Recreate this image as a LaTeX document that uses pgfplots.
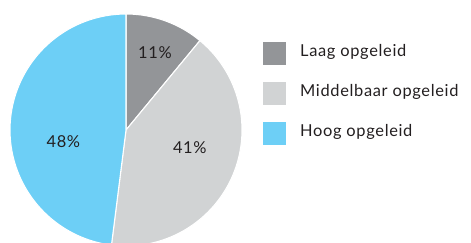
\documentclass[border=0pt]{standalone}
\usepackage{fontspec}
\setmainfont[LetterSpace=4]{Lato}
\usepackage{pgfplots}
\usepackage{pgfplotstable}
\pgfplotsset{compat=1.18}
\definecolor{cLaag}{HTML}{939598}
\definecolor{cMid}{HTML}{D1D3D4}
\definecolor{cHoog}{HTML}{6DCFF6}
\definecolor{txt}{HTML}{231F20}
\pgfplotstableread{
group pct
Laag 11
Middelbaar 41
Hoog 48
}\shares
\begin{document}
\begin{tikzpicture}
\pgfplotstablegetelem{0}{pct}\of\shares \edef\pA{\pgfplotsretval}
\pgfplotstablegetelem{1}{pct}\of\shares \edef\pB{\pgfplotsretval}
\pgfplotstablegetelem{2}{pct}\of\shares \edef\pC{\pgfplotsretval}
\pgfmathsetmacro\aA{90}
\pgfmathsetmacro\aB{90-3.6*\pA}
\pgfmathsetmacro\aC{\aB-3.6*\pB}
\pgfmathsetmacro\aD{\aC-3.6*\pC}
\path[use as bounding box] (0,0) rectangle (471bp,243bp);
\clip (0,0) rectangle (471bp,243bp);
\begin{axis}[
  at={(126bp,113bp)}, anchor=origin,
  x=116bp, y=116bp,
  xmin=-1, xmax=1, ymin=-1, ymax=1,
  hide axis, clip=false,
  legend style={at={(1.0905,0.879)}, anchor=north west, draw=none, fill=none,
    inner sep=0pt, row sep=17bp, column sep=14bp,
    nodes={inner sep=0pt, text=txt, font=\fontsize{16.5}{19}\selectfont},
    cells={anchor=base west}},
  legend image code/.code={\fill[#1, draw=none] (0bp,-8.3bp) rectangle (23bp,14.7bp);},
]
\addplot[fill=cLaag, draw=white, line width=1.1pt, domain=\aB:\aA, samples=60, variable=\t]
  ({cos(\t)},{sin(\t)}) -- (axis cs:0,0) -- cycle;
\addlegendentry{Laag opgeleid}
\addplot[fill=cMid, draw=white, line width=1.1pt, domain=\aC:\aB, samples=120, variable=\t]
  ({cos(\t)},{sin(\t)}) -- (axis cs:0,0) -- cycle;
\addlegendentry{Middelbaar opgeleid}
\addplot[fill=cHoog, draw=white, line width=1.1pt, domain=\aD:\aC, samples=140, variable=\t]
  ({cos(\t)},{sin(\t)}) -- (axis cs:0,0) -- cycle;
\addlegendentry{Hoog opgeleid}
\node[text=txt, font=\fontsize{16.5}{19}\selectfont] at (axis cs:0.25,0.67) {\pA\%};
\node[text=txt, font=\fontsize{16.5}{19}\selectfont] at (axis cs:0.55,-0.155) {\pB\%};
\node[text=txt, font=\fontsize{16.5}{19}\selectfont] at (axis cs:-0.54,-0.10) {\pC\%};
\end{axis}
\end{tikzpicture}
\end{document}
